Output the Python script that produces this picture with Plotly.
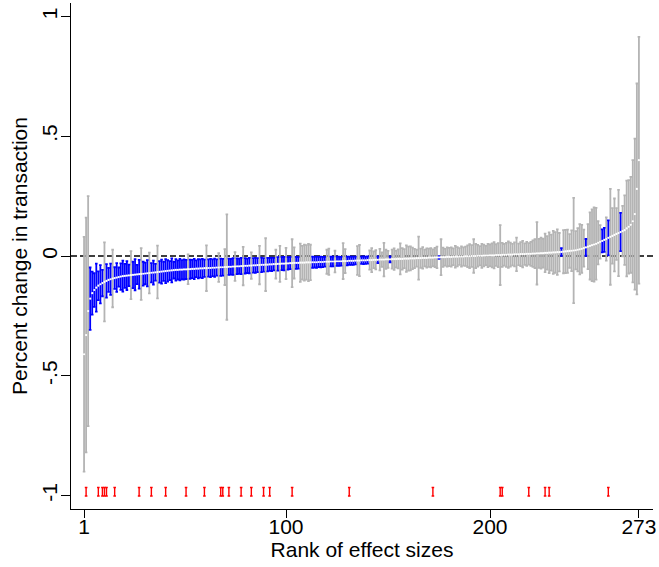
import plotly.graph_objects as go

# Point estimates ordered by rank (1..273)
est = [
-0.410,-0.330,-0.230,-0.178,-0.155,-0.142,-0.132,-0.124,-0.118,-0.113,
-0.108,-0.104,-0.100,-0.097,-0.094,-0.092,-0.090,-0.088,-0.086,-0.084,
-0.083,-0.082,-0.081,-0.080,-0.079,-0.078,-0.077,-0.076,-0.075,-0.074,
-0.073,-0.072,-0.071,-0.070,-0.069,-0.068,-0.067,-0.066,-0.065,-0.064,
-0.063,-0.062,-0.061,-0.060,-0.059,-0.058,-0.058,-0.057,-0.057,-0.056,
-0.056,-0.055,-0.055,-0.054,-0.054,-0.053,-0.053,-0.052,-0.052,-0.051,
-0.051,-0.050,-0.050,-0.049,-0.049,-0.048,-0.048,-0.047,-0.047,-0.046,
-0.046,-0.045,-0.045,-0.044,-0.044,-0.043,-0.043,-0.042,-0.042,-0.041,
-0.041,-0.040,-0.040,-0.039,-0.039,-0.038,-0.038,-0.037,-0.037,-0.036,
-0.036,-0.035,-0.035,-0.034,-0.034,-0.033,-0.033,-0.032,-0.032,-0.031,
-0.031,-0.030,-0.030,-0.029,-0.029,-0.029,-0.028,-0.028,-0.028,-0.027,
-0.027,-0.027,-0.026,-0.026,-0.026,-0.025,-0.025,-0.025,-0.024,-0.024,
-0.024,-0.023,-0.023,-0.023,-0.022,-0.022,-0.022,-0.021,-0.021,-0.021,
-0.020,-0.020,-0.020,-0.019,-0.019,-0.019,-0.018,-0.018,-0.018,-0.017,
-0.017,-0.017,-0.016,-0.016,-0.016,-0.015,-0.015,-0.015,-0.014,-0.014,
-0.014,-0.013,-0.013,-0.013,-0.012,-0.012,-0.012,-0.011,-0.011,-0.011,
-0.010,-0.010,-0.010,-0.009,-0.009,-0.009,-0.008,-0.008,-0.008,-0.007,
-0.007,-0.007,-0.006,-0.006,-0.006,-0.005,-0.005,-0.005,-0.004,-0.004,
-0.004,-0.003,-0.003,-0.003,-0.002,-0.002,-0.002,-0.001,-0.001,-0.001,
0.000,0.000,0.000,0.001,0.001,0.001,0.002,0.002,0.002,0.003,
0.003,0.003,0.004,0.004,0.004,0.005,0.005,0.005,0.006,0.006,
0.006,0.007,0.007,0.007,0.008,0.008,0.008,0.009,0.009,0.009,
0.010,0.010,0.011,0.011,0.012,0.012,0.013,0.013,0.014,0.014,
0.015,0.015,0.016,0.016,0.017,0.018,0.019,0.020,0.021,0.022,
0.023,0.024,0.026,0.028,0.030,0.033,0.036,0.039,0.042,0.045,
0.048,0.051,0.055,0.059,0.063,0.067,0.071,0.076,0.080,0.084,
0.088,0.092,0.096,0.100,0.104,0.108,0.115,0.122,0.130,0.145,
0.175,0.280,0.400]

# Half-width of the 95% confidence interval, same order
ci_half = [
0.490,0.490,0.480,0.130,0.090,0.070,0.100,0.060,0.080,0.055,
0.165,0.070,0.050,0.065,0.120,0.045,0.060,0.040,0.055,0.065,
0.050,0.060,0.045,0.100,0.055,0.065,0.040,0.060,0.108,0.050,
0.045,0.055,0.085,0.040,0.050,0.035,0.110,0.045,0.050,0.040,
0.050,0.045,0.040,0.050,0.035,0.045,0.040,0.045,0.040,0.042,
0.040,0.062,0.040,0.038,0.042,0.035,0.040,0.038,0.040,0.036,
0.095,0.036,0.038,0.035,0.038,0.034,0.060,0.036,0.035,0.075,
0.220,0.034,0.033,0.035,0.060,0.033,0.032,0.034,0.080,0.032,
0.030,0.032,0.055,0.030,0.031,0.029,0.080,0.030,0.028,0.110,
0.028,0.027,0.028,0.026,0.060,0.028,0.075,0.027,0.028,0.065,
0.026,0.025,0.100,0.065,0.025,0.024,0.080,0.070,0.075,0.072,
0.078,0.074,0.023,0.022,0.023,0.021,0.022,0.021,0.020,0.050,
0.055,0.020,0.020,0.045,0.019,0.019,0.018,0.075,0.050,0.018,
0.017,0.017,0.017,0.016,0.060,0.065,0.015,0.016,0.015,0.015,
0.040,0.050,0.035,0.040,0.014,0.045,0.030,0.070,0.040,0.035,
0.012,0.040,0.045,0.035,0.040,0.065,0.045,0.040,0.055,0.050,
0.050,0.045,0.040,0.035,0.090,0.040,0.045,0.035,0.040,0.038,
0.040,0.035,0.040,0.045,0.0055,0.075,0.040,0.035,0.040,0.038,
0.040,0.035,0.045,0.040,0.035,0.042,0.038,0.040,0.045,0.050,
0.045,0.070,0.050,0.045,0.040,0.050,0.045,0.040,0.048,0.045,
0.050,0.055,0.045,0.050,0.125,0.050,0.045,0.050,0.055,0.050,
0.045,0.050,0.070,0.045,0.050,0.055,0.045,0.050,0.045,0.050,
0.055,0.060,0.130,0.060,0.065,0.060,0.080,0.070,0.085,0.075,
0.090,0.085,0.095,0.080,0.016,0.090,0.090,0.090,0.070,0.085,
0.220,0.080,0.090,0.105,0.100,0.077,0.035,0.094,0.140,0.150,
0.155,0.150,0.090,0.070,0.048,0.050,0.090,0.073,0.200,0.116,
0.152,0.108,0.180,0.080,0.105,0.145,0.200,0.195,0.200,0.255,
0.315,0.440,0.515]

# Ranks flagged with red markers at the bottom
flag_ranks = [2, 8, 10, 11, 12, 16, 28, 34, 41, 51, 60, 68, 69, 72, 78, 83,
              89, 92, 103, 131, 172, 205, 206, 219, 227, 229, 258]

x_ticks = [1, 100, 200, 273]
y_ticks = [-1, -0.5, 0, 0.5, 1]
y_ticktext = ["-1", "-.5", "0", ".5", "1"]

ranks = list(range(1, len(est) + 1))
sig = [(e - h > 0) or (e + h < 0) for e, h in zip(est, ci_half)]

GRAY = "#b4b4b4"
BLUE = "#0000ff"
RED = "#ff0000"
FONT = "Arial, Liberation Sans, sans-serif"

fig = go.Figure()

def ci_trace(mask, color):
    xs = [r for r, m in zip(ranks, mask) if m]
    ys = [e for e, m in zip(est, mask) if m]
    hs = [h for h, m in zip(ci_half, mask) if m]
    return go.Scatter(
        x=xs, y=ys, mode="markers",
        marker=dict(size=1, color="rgba(0,0,0,0)"),
        error_y=dict(type="data", array=hs, symmetric=True,
                     color=color, thickness=1.8, width=1.3),
        hoverinfo="skip", showlegend=False)

fig.add_trace(ci_trace([not s for s in sig], GRAY))
fig.add_trace(ci_trace(sig, BLUE))

fig.add_trace(go.Scatter(
    x=ranks, y=est, mode="markers",
    marker=dict(size=2.2, color="white", line=dict(width=0)),
    hoverinfo="skip", showlegend=False))

fig.add_trace(go.Scatter(
    x=flag_ranks, y=[-0.984] * len(flag_ranks), mode="markers",
    marker=dict(size=1, color="rgba(0,0,0,0)"),
    error_y=dict(type="data", array=[0.018] * len(flag_ranks),
                 color=RED, thickness=1.4, width=1.3),
    hoverinfo="skip", showlegend=False))

fig.add_shape(type="line", xref="paper", yref="y", x0=0, x1=1, y0=0, y1=0,
              line=dict(color="black", width=1.5, dash="6px,3px"), layer="below")

fig.update_layout(
    width=659, height=567,
    margin=dict(l=71, r=6, t=3, b=58),
    paper_bgcolor="white", plot_bgcolor="white",
    font=dict(family=FONT, size=21, color="black"),
    xaxis=dict(range=[-5.4, 279.9], tickvals=x_ticks, ticks="outside",
               ticklen=8, tickwidth=1.3, tickcolor="black",
               showline=True, linecolor="black", linewidth=1.3,
               showgrid=False, zeroline=False, automargin=False,
               tickfont=dict(size=21), ticklabelstandoff=-9,
               title=dict(text="Rank of effect sizes", font=dict(size=21),
                          standoff=1)),
    yaxis=dict(range=[-1.056, 1.056], tickvals=y_ticks, ticktext=y_ticktext,
               tickangle=-90, ticks="outside", ticklen=9, tickwidth=1.3,
               tickcolor="black", showline=True, linecolor="black",
               linewidth=1.3, showgrid=False, zeroline=False,
               automargin=False, tickfont=dict(size=21), ticklabelstandoff=-5,
               title=dict(text="Percent change in transaction",
                          font=dict(size=21), standoff=5)),
)

fig.write_html("out.html", config={"displayModeBar": False},
               post_script="document.body.style.margin='0px';")
